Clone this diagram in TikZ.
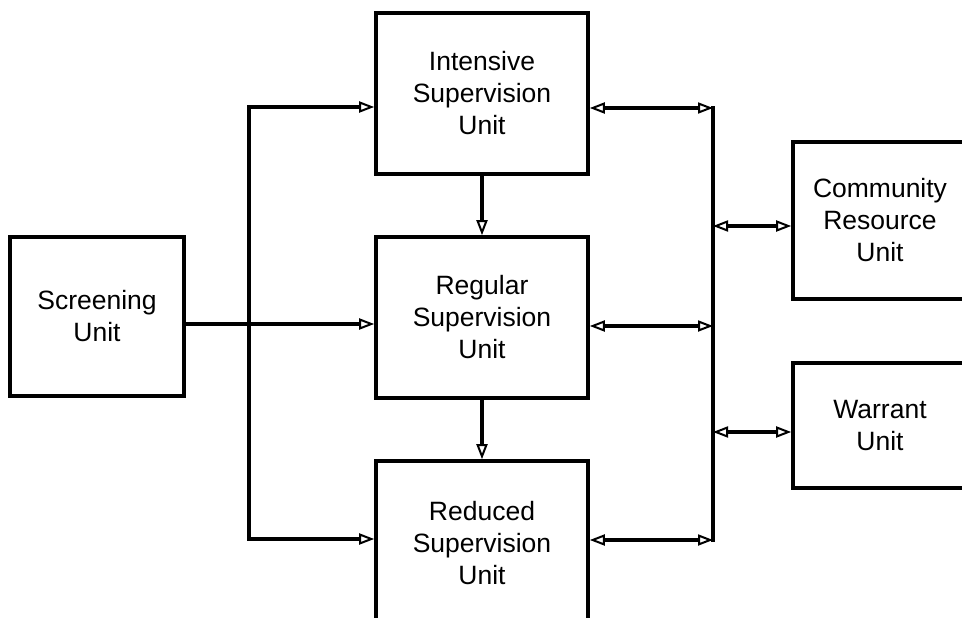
\documentclass[tikz,border=0pt]{standalone}
\usepackage{fontspec}
\setmainfont{Liberation Sans}
\usetikzlibrary{arrows.meta}
\begin{document}
\begin{tikzpicture}[x=1pt,y=-1pt,
  unitbox/.style={draw,line width=3.6pt,inner sep=0pt,align=center,
    font=\fontsize{26.5}{32}\selectfont},
  conn/.style={line width=3.2pt},
  tip/.tip={Triangle[open,length=15pt,width=11pt,line width=2pt]},
  arr/.style={conn,-tip},
  darr/.style={conn,tip-tip}]
\path[use as bounding box] (0,0) rectangle (962,618);
\clip (0,0) rectangle (962,618);
% boxes
\node[unitbox,minimum width=212pt,minimum height=161pt] (int) at (482,93.5) {Intensive\\Supervision\\Unit};
\node[unitbox,minimum width=212pt,minimum height=161pt] (reg) at (482,317.5) {Regular\\Supervision\\Unit};
\node[unitbox,minimum width=212pt,minimum height=164pt] (red) at (482,543) {Reduced\\Supervision\\Unit};
\node[unitbox,minimum width=174pt,minimum height=159pt] (scr) at (97,316.5) {Screening\\Unit};
\node[unitbox,minimum width=174pt,minimum height=157pt] (com) at (880,220.5) {Community\\Resource\\Unit};
\node[unitbox,minimum width=174pt,minimum height=125pt] (war) at (880,425.5) {Warrant\\Unit};
% left distribution
\coordinate (ltop) at (249,107);
\coordinate (lmid) at (249,324);
\coordinate (lbot) at (249,539);
\draw[conn,line cap=rect] (ltop) -- (lbot);
\draw[arr] (ltop) -- (int.west |- ltop);
\draw[arr] (scr.east |- lmid) -- (reg.west |- lmid);
\draw[arr] (lbot) -- (red.west |- lbot);
% vertical flow
\draw[arr] (int.south) -- (reg.north);
\draw[arr] (reg.south) -- (red.north);
% right bus
\coordinate (rtop) at (713,108);
\coordinate (rreg) at (713,326);
\coordinate (rbot) at (713,540);
\coordinate (rcom) at (713,226);
\coordinate (rwar) at (713,432);
\draw[conn,line cap=rect] (rtop) -- (rbot);
\draw[darr] (int.east |- rtop) -- (rtop);
\draw[darr] (reg.east |- rreg) -- (rreg);
\draw[darr] (red.east |- rbot) -- (rbot);
\draw[darr] (rcom) -- (com.west |- rcom);
\draw[darr] (rwar) -- (war.west |- rwar);
\end{tikzpicture}
\end{document}
